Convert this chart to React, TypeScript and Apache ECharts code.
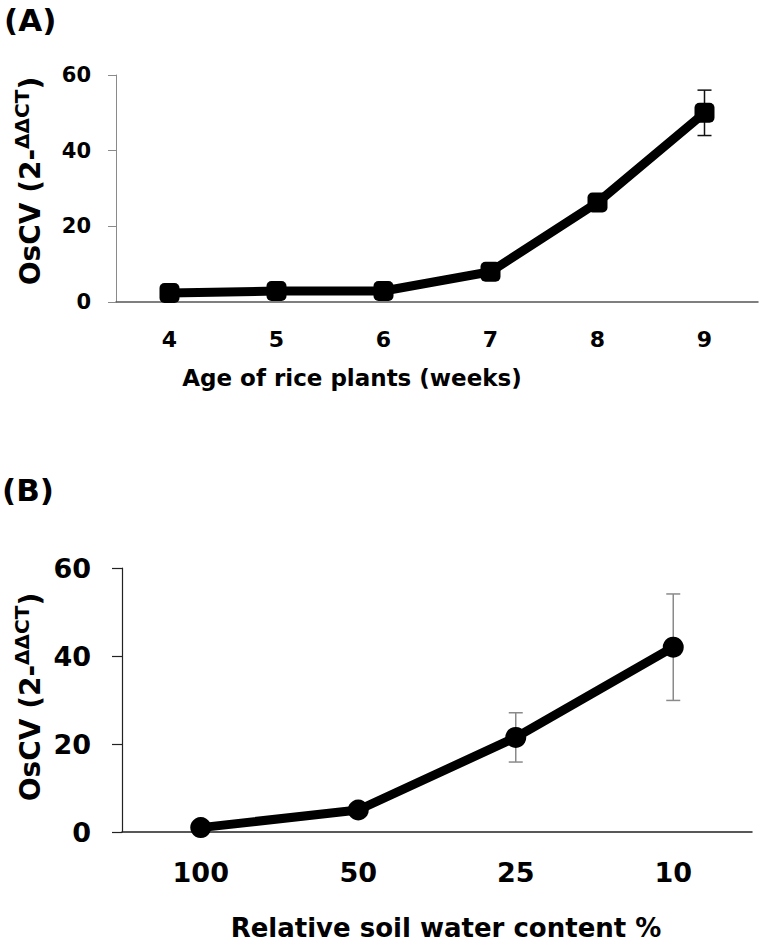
import React, { useEffect, useRef } from "react";
import * as echarts from "echarts";

// Panel A: age of rice plants (weeks)
const weekCategories = ["4", "5", "6", "7", "8", "9"];
const ageValues = [2.4, 2.9, 2.9, 8.0, 26.3, 50.0];
const ageErrors = [0.5, 0.6, 0.6, 1.2, 1.5, 6.0];

// Panel B: relative soil water content %
const waterCategories = ["100", "50", "25", "10"];
const waterValues = [1.0, 5.0, 21.5, 42.0];
const waterErrors = [0.4, 0.8, 5.6, 12.1];

const yMin = 0;
const yMax = 60;
const yInterval = 20;

const FONT = "DejaVu Sans";

function errorBarSeries(gridIndex: number, cats: string[], vals: number[], errs: number[], color: string, width: number) {
  return {
    type: "custom",
    xAxisIndex: gridIndex,
    yAxisIndex: gridIndex,
    z: 1,
    silent: true,
    data: cats.map((_, i) => [i, vals[i], errs[i]]),
    encode: { x: 0, y: 1 },
    renderItem: (params: any, api: any) => {
      const idx = api.value(0);
      const v = api.value(1);
      const e = api.value(2);
      const top = api.coord([idx, v + e]);
      const bot = api.coord([idx, v - e]);
      const hw = 7;
      const style = { stroke: color, lineWidth: width };
      return {
        type: "group",
        children: [
          { type: "line", shape: { x1: top[0], y1: top[1], x2: bot[0], y2: bot[1] }, style },
          { type: "line", shape: { x1: top[0] - hw, y1: top[1], x2: top[0] + hw, y2: top[1] }, style },
          { type: "line", shape: { x1: bot[0] - hw, y1: bot[1], x2: bot[0] + hw, y2: bot[1] }, style },
        ],
      };
    },
  };
}

export default function App() {
  const ref = useRef<HTMLDivElement>(null);
  useEffect(() => {
    if (!ref.current) return;
    const chart = echarts.init(ref.current, null, { renderer: "svg" });
    const yTitle = (cx: number, cy: number) => ({
      type: "text",
      x: cx,
      y: cy,
      rotation: Math.PI / 2,
      style: {
        text: "{a|OsCV (2-}{s|ΔΔCT}{a|)}",
        align: "center",
        verticalAlign: "middle",
        font: `bold 28px "${FONT}"`,
        fill: "#000",
        rich: {
          a: { fontSize: 28, fontWeight: "bold", fontFamily: FONT, lineHeight: 33, verticalAlign: "bottom", fill: "#000" },
          s: { fontSize: 20, fontWeight: "bold", fontFamily: FONT, lineHeight: 33, verticalAlign: "top", fill: "#000" },
        },
      },
    });
    chart.setOption({
      animation: false,
      backgroundColor: "#fff",
      grid: [
        { left: 116, top: 75, width: 642, height: 227 },
        { left: 122, top: 568, width: 630, height: 264 },
      ],
      xAxis: [
        {
          type: "category",
          gridIndex: 0,
          data: weekCategories,
          boundaryGap: true,
          axisLine: { lineStyle: { color: "#555", width: 1.5 } },
          axisTick: { show: false },
          axisLabel: { color: "#000", fontSize: 22, fontWeight: "bold", fontFamily: FONT, margin: 26 },
        },
        {
          type: "category",
          gridIndex: 1,
          data: waterCategories,
          boundaryGap: true,
          axisLine: { lineStyle: { color: "#222", width: 1.5 } },
          axisTick: { show: false },
          axisLabel: { color: "#000", fontSize: 27, fontWeight: "bold", fontFamily: FONT, margin: 27 },
        },
      ],
      yAxis: [
        {
          type: "value",
          gridIndex: 0,
          min: yMin,
          max: yMax,
          interval: yInterval,
          axisLine: { show: true, lineStyle: { color: "#8a8a8a", width: 1 } },
          axisTick: { show: true, length: 8, lineStyle: { color: "#8a8a8a" } },
          splitLine: { show: false },
          axisLabel: { color: "#000", fontSize: 21, fontWeight: "bold", fontFamily: FONT, margin: 25 },
        },
        {
          type: "value",
          gridIndex: 1,
          min: yMin,
          max: yMax,
          interval: yInterval,
          axisLine: { show: true, lineStyle: { color: "#222", width: 1.2 } },
          axisTick: { show: true, length: 10, lineStyle: { color: "#222", width: 1.2 } },
          splitLine: { show: false },
          axisLabel: { color: "#000", fontSize: 27, fontWeight: "bold", fontFamily: FONT, margin: 31 },
        },
      ],
      series: [
        errorBarSeries(0, weekCategories, ageValues, ageErrors, "#111", 1.5),
        {
          type: "line",
          xAxisIndex: 0,
          yAxisIndex: 0,
          z: 2,
          data: ageValues,
          symbol: "roundRect",
          symbolSize: 20,
          itemStyle: { color: "#000" },
          lineStyle: { color: "#000", width: 9 },
        },
        errorBarSeries(1, waterCategories, waterValues, waterErrors, "#8a8a8a", 1.5),
        {
          type: "line",
          xAxisIndex: 1,
          yAxisIndex: 1,
          z: 2,
          data: waterValues,
          symbol: "circle",
          symbolSize: 21,
          itemStyle: { color: "#000" },
          lineStyle: { color: "#000", width: 9 },
        },
      ],
      graphic: [
        { type: "text", x: 4, y: 4, style: { text: "(A)", font: `bold 31px "${FONT}"`, fill: "#000" } },
        { type: "text", x: 2, y: 474, style: { text: "(B)", font: `bold 31px "${FONT}"`, fill: "#000" } },
        yTitle(28, 181),
        yTitle(28, 697),
        {
          type: "text",
          x: 352,
          y: 378,
          style: { text: "Age of rice plants (weeks)", align: "center", verticalAlign: "middle", font: `bold 23px "${FONT}"`, fill: "#000" },
        },
        {
          type: "text",
          x: 446,
          y: 928,
          style: { text: "Relative soil water content %", align: "center", verticalAlign: "middle", font: `bold 26px "${FONT}"`, fill: "#000" },
        },
      ],
    });
    return () => chart.dispose();
  }, []);
  return <div ref={ref} style={{ position: "absolute", left: 0, top: 0, width: 760, height: 945 }} />;
}
